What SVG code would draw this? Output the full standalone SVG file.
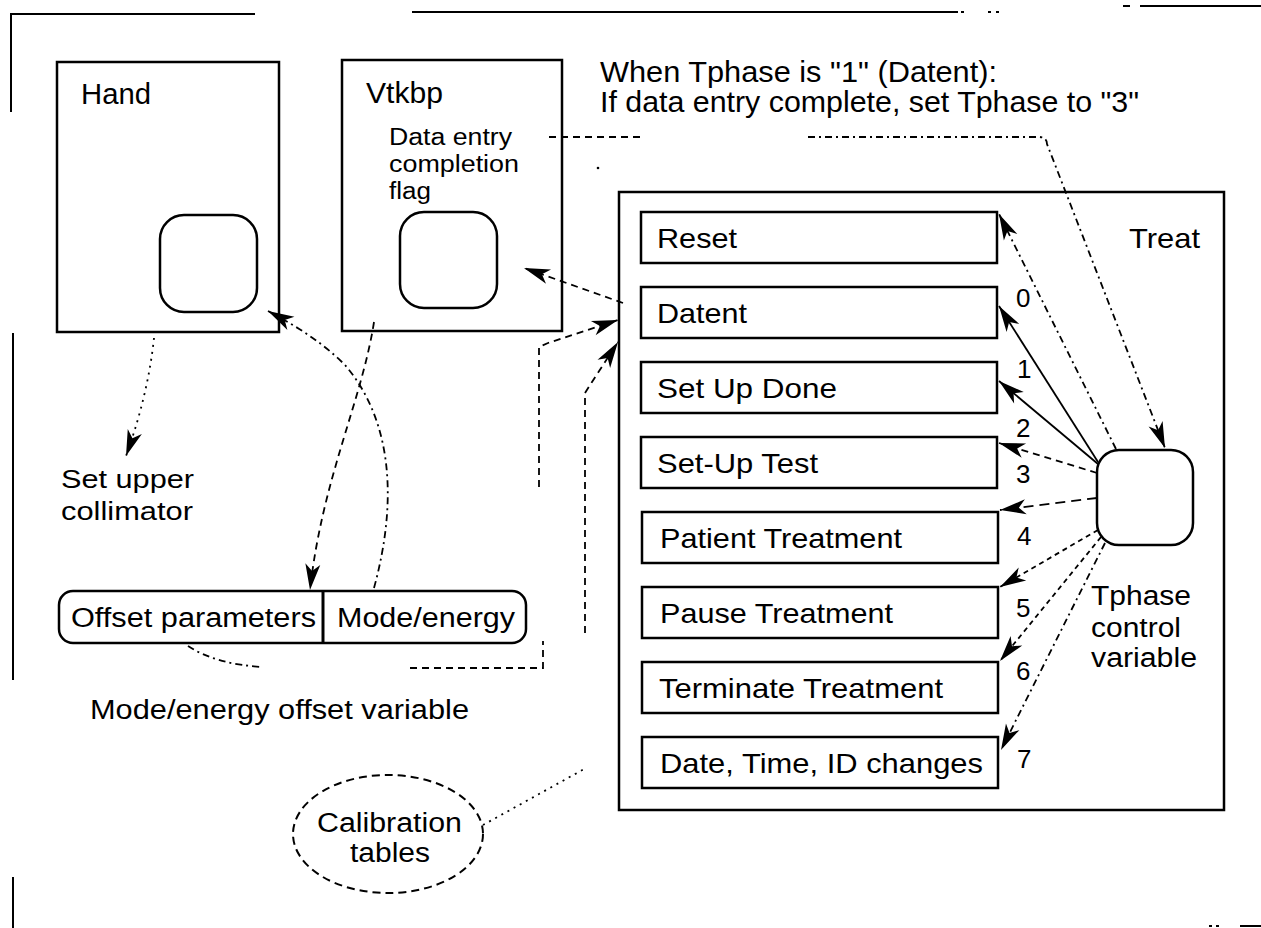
<svg xmlns="http://www.w3.org/2000/svg" width="1261" height="928" viewBox="0 0 1261 928">
<style>
.t{font-family:"Liberation Sans",Arial,Helvetica,sans-serif;fill:#000}
.bx{fill:#fff;stroke:#000;stroke-width:2.5}
.fr{fill:none;stroke:#000;stroke-width:2}
.c{fill:none;stroke:#000;stroke-width:1.8}
.dash{stroke-dasharray:7 5}
.ldash{stroke-dasharray:10 6}
.fdash{stroke-dasharray:5 4}
.dot{stroke-dasharray:2 5}
.dd{stroke-dasharray:7 4 2 4}
</style>
<defs>
<marker id="ah" viewBox="-28 -10 30 20" refX="0" refY="0" markerWidth="30" markerHeight="20" markerUnits="userSpaceOnUse" orient="auto">
<path d="M0,0 L-26,-7.5 L-19,0 L-26,7.5 Z" fill="#000" stroke="none"/>
</marker>
</defs>
<rect width="1261" height="928" fill="#fff"/>

<g id="frame">
<path class="fr" d="M10 14 H255 M11 14 V112"/>
<path class="fr" d="M412 12 H958"/>
<path class="fr" d="M961 12 h3 M988 12 h3 M996 12 h3"/>
<path class="fr" d="M1123 6 h7 M1140 6 H1261"/>
<path class="fr" d="M13 333 V680 M13 877 V928"/>
<path class="fr" d="M1240 926 H1261 M1209 926 h3 M1216 926 h3"/>
</g>

<g id="hand">
<rect class="bx" x="57" y="62" width="222" height="270"/>
<text class="t" x="81" y="104" font-size="29" textLength="70" lengthAdjust="spacingAndGlyphs">Hand</text>
<rect class="bx" x="160" y="215" width="97" height="97" rx="24"/>
</g>

<g id="vtkbp">
<rect class="bx" x="342" y="60" width="220" height="271"/>
<text class="t" x="366" y="103" font-size="29" textLength="77" lengthAdjust="spacingAndGlyphs">Vtkbp</text>
<text class="t" x="389" y="145" font-size="23" textLength="123" lengthAdjust="spacingAndGlyphs">Data entry</text>
<text class="t" x="389" y="172" font-size="23" textLength="130" lengthAdjust="spacingAndGlyphs">completion</text>
<text class="t" x="389" y="199" font-size="23" textLength="42" lengthAdjust="spacingAndGlyphs">flag</text>
<rect class="bx" x="400" y="212" width="97" height="96" rx="24"/>
</g>

<g id="note">
<text class="t" x="600" y="82" font-size="29" textLength="397" lengthAdjust="spacingAndGlyphs">When Tphase is "1" (Datent):</text>
<text class="t" x="600" y="112" font-size="29" textLength="539" lengthAdjust="spacingAndGlyphs">If data entry complete, set Tphase to "3"</text>
</g>

<g id="set-upper-collimator">
<text class="t" x="61" y="488" font-size="25" textLength="133" lengthAdjust="spacingAndGlyphs">Set upper</text>
<text class="t" x="61" y="520" font-size="25" textLength="132" lengthAdjust="spacingAndGlyphs">collimator</text>
</g>

<g id="offset-variable">
<rect class="bx" x="59" y="591" width="467" height="52" rx="14"/>
<line x1="323" y1="591" x2="323" y2="643" stroke="#000" stroke-width="3"/>
<text class="t" x="71" y="627" font-size="27" textLength="245" lengthAdjust="spacingAndGlyphs">Offset parameters</text>
<text class="t" x="337" y="627" font-size="27" textLength="178" lengthAdjust="spacingAndGlyphs">Mode/energy</text>
<text class="t" x="90" y="719" font-size="27" textLength="379" lengthAdjust="spacingAndGlyphs">Mode/energy offset variable</text>
</g>

<g id="calibration">
<ellipse cx="388" cy="834" rx="95" ry="59" fill="none" stroke="#000" stroke-width="2" stroke-dasharray="8 5"/>
<text class="t" x="317" y="832" font-size="27" textLength="145" lengthAdjust="spacingAndGlyphs">Calibration</text>
<text class="t" x="350" y="862" font-size="27" textLength="80" lengthAdjust="spacingAndGlyphs">tables</text>
</g>

<g id="treat">
<rect class="bx" x="619" y="192" width="605" height="618"/>
<text class="t" x="1129" y="248" font-size="28" textLength="71" lengthAdjust="spacingAndGlyphs">Treat</text>
<g id="reset"><rect class="bx" x="641" y="212" width="356" height="51"/><text class="t" x="657" y="248" font-size="28" textLength="80" lengthAdjust="spacingAndGlyphs">Reset</text></g>
<g id="datent"><rect class="bx" x="641" y="287" width="356" height="51"/><text class="t" x="657" y="322.5" font-size="28" textLength="90" lengthAdjust="spacingAndGlyphs">Datent</text></g>
<g id="setupdone"><rect class="bx" x="641" y="362" width="356" height="51"/><text class="t" x="657" y="397.5" font-size="28" textLength="180" lengthAdjust="spacingAndGlyphs">Set Up Done</text></g>
<g id="setuptest"><rect class="bx" x="641" y="437" width="356" height="51"/><text class="t" x="657" y="472.5" font-size="28" textLength="161" lengthAdjust="spacingAndGlyphs">Set-Up Test</text></g>
<g id="patient"><rect class="bx" x="642" y="512" width="356" height="51"/><text class="t" x="660" y="547.5" font-size="28" textLength="242" lengthAdjust="spacingAndGlyphs">Patient Treatment</text></g>
<g id="pause"><rect class="bx" x="642" y="587" width="356" height="51"/><text class="t" x="660" y="622.5" font-size="28" textLength="233" lengthAdjust="spacingAndGlyphs">Pause Treatment</text></g>
<g id="terminate"><rect class="bx" x="642" y="662" width="356" height="51"/><text class="t" x="659" y="697.5" font-size="28" textLength="284" lengthAdjust="spacingAndGlyphs">Terminate Treatment</text></g>
<g id="datetime"><rect class="bx" x="642" y="737" width="356" height="51"/><text class="t" x="660" y="772.5" font-size="28" textLength="323" lengthAdjust="spacingAndGlyphs">Date, Time, ID changes</text></g>
<g id="tphase">
<rect class="bx" x="1097" y="450" width="96" height="95" rx="22"/>
<text class="t" x="1091" y="605" font-size="27" textLength="100" lengthAdjust="spacingAndGlyphs">Tphase</text>
<text class="t" x="1091" y="637" font-size="27" textLength="90" lengthAdjust="spacingAndGlyphs">control</text>
<text class="t" x="1091" y="667" font-size="27" textLength="106" lengthAdjust="spacingAndGlyphs">variable</text>
</g>
</g>

<g id="connectors">
<path class="c dd" d="M1116 449 L999 214" marker-end="url(#ah)"/>
<path class="c" d="M1098 462 L999 306" marker-end="url(#ah)"/>
<path class="c" d="M1098 464 L999 381" marker-end="url(#ah)"/>
<path class="c dash" d="M1097 473 L999 443" marker-end="url(#ah)"/>
<path class="c ldash" d="M1097 498 L1000 510" marker-end="url(#ah)"/>
<path class="c fdash" d="M1098 530 L1000 587" marker-end="url(#ah)"/>
<path class="c fdash" d="M1101 537 L1000 661" marker-end="url(#ah)"/>
<path class="c dd" d="M1105 543 L1001 750" marker-end="url(#ah)"/>
<g class="t" font-size="26">
<text x="1016" y="307">0</text>
<text x="1017" y="378">1</text>
<text x="1016" y="437">2</text>
<text x="1016" y="483">3</text>
<text x="1017" y="545">4</text>
<text x="1016" y="617">5</text>
<text x="1016" y="680">6</text>
<text x="1017" y="768">7</text>
</g>
<path class="c dash" d="M549 137 H645"/>
<circle cx="598" cy="168" r="1.3" fill="#000"/>
<path class="c dd" d="M808 137 H1040 Q1047 138 1047 144 L1165 448" marker-end="url(#ah)"/>
<path class="c dash" d="M623 303 L524 268" marker-end="url(#ah)"/>
<path class="c dash" d="M539 487 V347 L548 343 L618 320" marker-end="url(#ah)"/>
<path class="c dash" d="M585 633 V393 L592 382 L618 342" marker-end="url(#ah)"/>
<path class="c dd" d="M188 646 Q215 664 262 667"/>
<path class="c dash" d="M410 668 H543 V641"/>
<path class="c dot" d="M154 338 Q148 395 126 456" marker-end="url(#ah)"/>
<path class="c dash" d="M374 322 C362 400 322 480 310 590" marker-end="url(#ah)"/>
<path class="c dd" d="M374 588 C398 500 392 420 345 365 C322 342 296 326 268 311" marker-end="url(#ah)"/>
<path class="c dot" d="M483 825 L586 768"/>
</g>
</svg>
